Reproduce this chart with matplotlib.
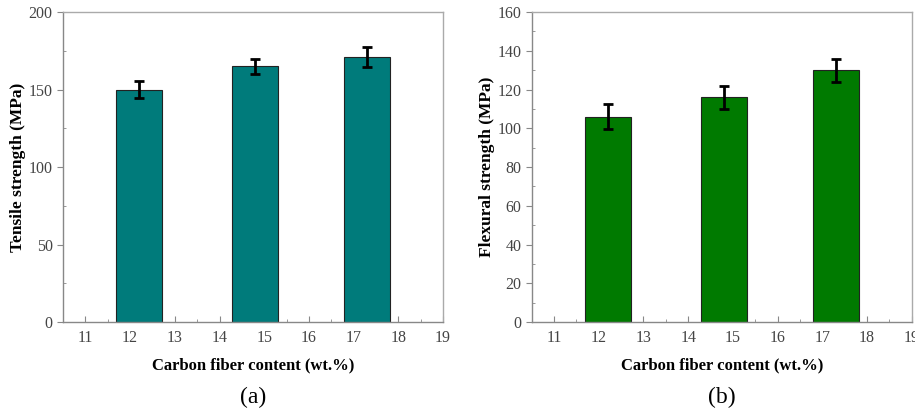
import matplotlib.pyplot as plt
from matplotlib.ticker import MultipleLocator

plt.rcParams["font.family"] = ["Liberation Serif", "DejaVu Serif"]

# bar positions and measured strengths
positions = [12.2, 14.8, 17.3]
tensile = [150, 165, 171]
tensile_err = [5.5, 5.0, 6.5]
flexural = [106, 116, 130]
flexural_err = [6.5, 5.8, 6.0]
x_ticks = [11, 12, 13, 14, 15, 16, 17, 18, 19]

fig = plt.figure(figsize=(9.15, 4.12), dpi=100)
ax1 = fig.add_axes([0.0689, 0.2184, 0.4153, 0.7524])
ax2 = fig.add_axes([0.5811, 0.2184, 0.4153, 0.7524])


def draw_panel(ax, vals, errs, color, ylabel, ymax, ystep, caption):
    ax.bar(positions, vals, width=1.03, color=color, edgecolor="#222222", linewidth=0.8, zorder=2)
    ax.errorbar(positions, vals, yerr=errs, fmt="none", ecolor="black",
                elinewidth=2, capsize=3.5, capthick=2, zorder=3)
    ax.set_xlim(10.5, 19)
    ax.set_ylim(0, ymax)
    ax.set_xticks(x_ticks)
    ax.xaxis.set_minor_locator(MultipleLocator(0.5))
    ax.yaxis.set_major_locator(MultipleLocator(ystep))
    ax.yaxis.set_minor_locator(MultipleLocator(ystep / 2))
    ax.tick_params(axis="x", which="major", direction="in", length=4, color="#888888",
                   labelsize=11.5, labelcolor="#444444", pad=6)
    ax.tick_params(axis="x", which="minor", direction="in", length=2, color="#888888")
    ax.tick_params(axis="y", which="major", direction="out", length=4, color="#888888",
                   labelsize=11.5, labelcolor="#444444")
    ax.tick_params(axis="y", which="minor", direction="in", length=2, color="#888888")
    for s in ax.spines.values():
        s.set_color("#aaaaaa")
        s.set_linewidth(1.0)
    ax.spines["left"].set_color("#888888")
    ax.spines["bottom"].set_color("#888888")
    ax.set_xlabel("Carbon fiber content (wt.%)", fontsize=12, fontweight="bold", labelpad=8)
    ax.set_ylabel(ylabel, fontsize=12.5, fontweight="bold", labelpad=2)
    ax.text(0.5, -0.242, caption, transform=ax.transAxes, ha="center", va="center", fontsize=17)


draw_panel(ax1, tensile, tensile_err, "#007b7b", "Tensile strength (MPa)", 200, 50, "(a)")
draw_panel(ax2, flexural, flexural_err, "#007a00", "Flexural strength (MPa)", 160, 20, "(b)")

plt.savefig("out.png", dpi=100)
